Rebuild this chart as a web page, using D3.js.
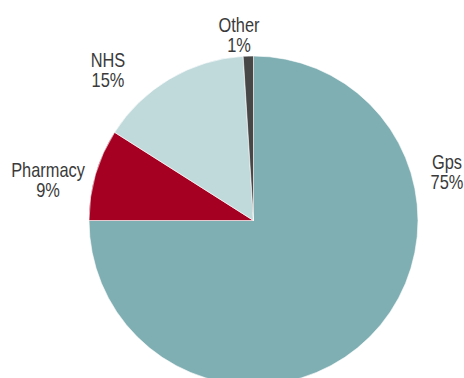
<!DOCTYPE html>
<html>
<head>
<meta charset="utf-8">
<script src="https://cdn.jsdelivr.net/npm/d3@7"></script>
<style>
  body { margin: 0; background: #fff; }
  svg { display: block; }
</style>
</head>
<body>
<div id="wrapper"></div>
<script>
const categories = ["Gps", "Pharmacy", "NHS", "Other"]
const shares = [75, 9, 15, 1]
const shareLabels = ["75%", "9%", "15%", "1%"]
const colors = ["#80afb3", "#a50021", "#c0d9db", "#474747"]

function drawPie() {
  const dataset = categories.map((c, i) => ({ name: c, value: shares[i], label: shareLabels[i], color: colors[i] }))

  let dimensions = {
    width: 464,
    height: 378,
    cx: 253.5,
    cy: 220.5,
    radius: 164.5,
  }

  // where the labels sit (x centre, first baseline)
  const labelPos = {
    Gps: [447, 169],
    Pharmacy: [48, 177],
    NHS: [108, 67],
    Other: [239, 32],
  }
  const lineGap = 20
  // no narrow font installed, so squeeze the regular one
  const squeeze = 0.82

  const wrapper = d3.select("#wrapper")
    .append("svg")
    .attr("width", dimensions.width)
    .attr("height", dimensions.height)

  const bounds = wrapper.append("g")
    .attr("transform", `translate(${dimensions.cx},${dimensions.cy})`)

  const pieGen = d3.pie()
    .sort(null)
    .value(d => d.value)

  const arcGen = d3.arc()
    .innerRadius(0)
    .outerRadius(dimensions.radius)

  bounds.selectAll("path")
    .data(pieGen(dataset))
    .enter()
    .append("path")
    .attr("d", arcGen)
    .attr("fill", d => d.data.color)
    .attr("stroke", "#ffffff")
    .attr("stroke-width", 0.6)

  const labelGroups = wrapper.append("g")
    .attr("font-family", "'Liberation Sans', Arial, sans-serif")
    .attr("font-size", "20px")
    .attr("fill", "#3a3a3a")
    .attr("text-anchor", "middle")
    .selectAll("g")
    .data(dataset)
    .enter()
    .append("g")

  // name on top, share underneath
  labelGroups.append("text")
    .attr("transform", d => `translate(${labelPos[d.name][0]},${labelPos[d.name][1]}) scale(${squeeze},1)`)
    .text(d => d.name)
  labelGroups.append("text")
    .attr("transform", d => `translate(${labelPos[d.name][0]},${labelPos[d.name][1] + lineGap}) scale(${squeeze},1)`)
    .text(d => d.label)
}
drawPie()
</script>
</body>
</html>
